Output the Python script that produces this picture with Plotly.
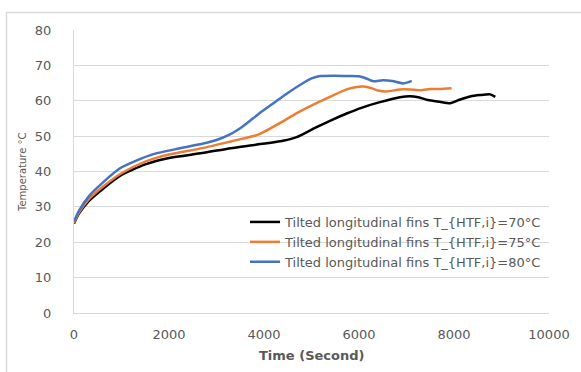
import plotly.graph_objects as go

# ---- data ----
t_70 = [0, 100, 300, 600, 1000, 1500, 2000, 2700, 3300, 3850, 4400, 4700, 5040, 5400, 5740, 6050,
        6440, 6860, 7070, 7250, 7450, 7700, 7920, 8100, 8340, 8550, 8760, 8870]
T_70 = [25.3, 28.0, 31.5, 35.0, 39.0, 42.0, 43.8, 45.2, 46.6, 47.6, 48.7, 49.8, 52.1, 54.4, 56.4, 58.0,
        59.6, 61.0, 61.3, 61.0, 60.2, 59.7, 59.3, 60.2, 61.2, 61.6, 61.8, 61.1]

t_75 = [0, 100, 300, 600, 1000, 1500, 2000, 2700, 3300, 3850, 4000, 4350, 4690, 5050, 5390, 5740,
        5950, 6100, 6250, 6400, 6580, 6860, 7070, 7300, 7500, 7700, 7950]
T_75 = [25.5, 28.3, 32.0, 35.6, 39.5, 42.8, 44.8, 46.6, 48.5, 50.3, 51.2, 53.8, 56.5, 59.0, 61.1, 63.2,
        63.9, 64.0, 63.6, 62.9, 62.6, 63.2, 63.2, 63.0, 63.3, 63.3, 63.5]

t_80 = [0, 100, 337, 600, 968, 1300, 1670, 2200, 2723, 3000, 3284, 3425, 3635, 3900, 4200, 4500,
        4800, 5000, 5180, 5500, 5800, 6000, 6150, 6300, 6500, 6700, 6930, 7050, 7110]
T_80 = [25.8, 28.8, 33.4, 36.8, 40.9, 43.0, 44.9, 46.5, 47.9, 48.9, 50.5, 51.6, 53.6, 56.4, 59.3, 62.2,
        64.8, 66.3, 67.0, 67.1, 67.0, 66.9, 66.3, 65.5, 65.8, 65.6, 64.9, 65.3, 65.6]

names = ["Tilted longitudinal fins T_{HTF,i}=70°C",
         "Tilted longitudinal fins T_{HTF,i}=75°C",
         "Tilted longitudinal fins T_{HTF,i}=80°C"]
colors = ["#000000", "#ED7D31", "#4472C4"]

x_ticks = [0, 2000, 4000, 6000, 8000, 10000]
x_ticktext = ["0", "2000", "4000", "6000", "8000", "10000"]
y_ticks = [0, 10, 20, 30, 40, 50, 60, 70, 80]

FONT = "DejaVu Sans, sans-serif"
GRAY = "#595959"

fig = go.Figure()
for t, T, n, c in zip([t_70, t_75, t_80], [T_70, T_75, T_80], names, colors):
    fig.add_trace(go.Scatter(x=t, y=T, mode="lines", name=n,
                             line=dict(color=c, width=2.5, shape="spline", smoothing=0.6)))

L, R, T_, B = 74, 32, 30, 59
W, H = 581, 372
pw, ph = W - L - R, H - T_ - B

fig.update_layout(
    width=W, height=H,
    margin=dict(l=L, r=R, t=T_, b=B, pad=0),
    paper_bgcolor="white", plot_bgcolor="white",
    font=dict(family=FONT, color=GRAY, size=12),
    legend=dict(x=(245 - L) / pw, y=(H - B - 207) / ph, xanchor="left", yanchor="top",
                bgcolor="rgba(0,0,0,0)", font=dict(size=13, color=GRAY),
                tracegroupgap=0, itemwidth=30),
    xaxis=dict(range=[0, 10000], tickvals=x_ticks, ticktext=x_ticktext, showgrid=False,
               zeroline=False, showline=True, linecolor="#d9d9d9", linewidth=1, ticks="",
               ticklabelstandoff=9, tickfont=dict(size=13, color=GRAY)),
    yaxis=dict(range=[0, 80], tickvals=y_ticks, showgrid=True, gridcolor="#d9d9d9", gridwidth=1,
               zeroline=False, showline=True, linecolor="#d9d9d9", linewidth=1, ticks="",
               ticklabelstandoff=19, tickfont=dict(size=13, color=GRAY)),
    annotations=[
        dict(text="<b>Time (Second)</b>", xref="paper", yref="paper",
             x=(311 - L) / pw, y=-(355 - (H - B)) / ph, xanchor="center", yanchor="middle",
             showarrow=False, font=dict(size=13, color=GRAY)),
        dict(text="Temperature °C", xref="paper", yref="paper",
             x=(22 - L) / pw, y=(H - B - 172) / ph, xanchor="center", yanchor="middle",
             textangle=-90, showarrow=False, font=dict(size=10, color=GRAY)),
    ],
    shapes=[dict(type="rect", xref="paper", yref="paper",
                 x0=(6.5 - L) / pw, x1=(W + 5 - L) / pw,
                 y0=-(H + 5 - (H - B)) / ph, y1=(H - B - 12.5) / ph,
                 line=dict(color="#d9d9d9", width=1.5), layer="below")],
)

fig.write_html("out.html", config={"displayModeBar": False},
               post_script="document.body.style.margin='0';document.body.style.overflow='hidden';")
